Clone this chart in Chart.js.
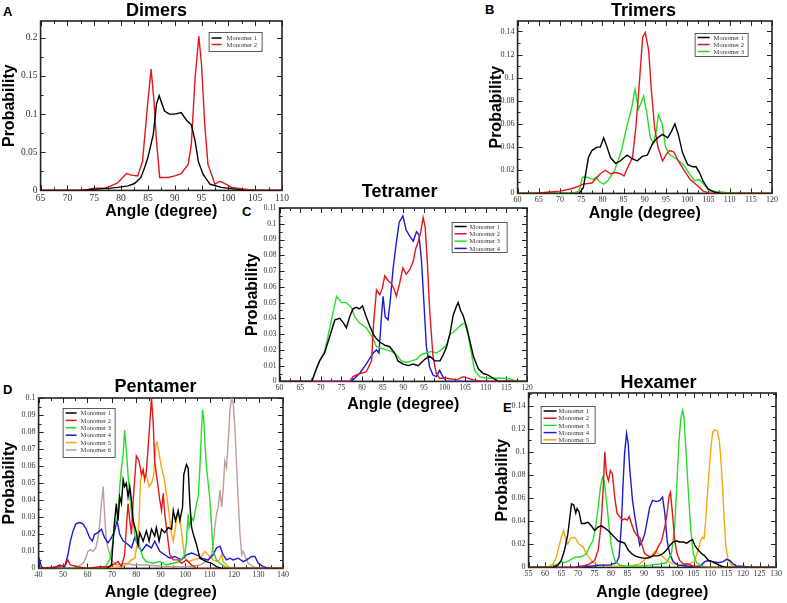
<!DOCTYPE html>
<html>
<head>
<meta charset="utf-8">
<script src="https://cdn.jsdelivr.net/npm/chart.js@4"></script>
<style>
  html, body { margin: 0; padding: 0; background: #fff; overflow: hidden; }
  body { width: 787px; height: 603px; position: relative; }
  canvas { position: absolute; }
  .tag { position: absolute; font: bold 13px "Liberation Sans", Arial, sans-serif; line-height: 13px; color: #000; }
</style>
</head>
<body>
<div class="tag" style="left:3px;top:5px">A</div>
<div class="tag" style="left:485px;top:3px">B</div>
<div class="tag" style="left:242px;top:205px">C</div>
<div class="tag" style="left:3px;top:383px">D</div>
<div class="tag" style="left:503px;top:401px">E</div>
<script>
// ---- data: [angle (degree), probability] ----
const dimersM1 = [[65,0],[73,0],[74,0.001],[76,0.002],[78,0.003],[79.4,0.004],[81.3,0.006],[82.5,0.009],[83.7,0.017],[84.4,0.03],[85,0.043],[86,0.073],[86.6,0.113],[87.1,0.124],[88.1,0.104],[89,0.1],[90,0.1],[91.2,0.102],[92.2,0.092],[93.1,0.086],[93.8,0.065],[94.4,0.038],[95.3,0.021],[96.6,0.008],[98.7,0.004],[101,0.002],[103,0],[110,0]];
const dimersM2 = [[65,0],[72,0],[73.7,0.001],[75,0.003],[77,0.003],[78.1,0.006],[79.4,0.01],[81,0.022],[81.9,0.02],[83.1,0.019],[84,0.038],[85,0.117],[85.6,0.159],[86.1,0.12],[86.6,0.065],[87.2,0.017],[88.8,0.017],[90,0.019],[91.2,0.022],[92.5,0.034],[93.1,0.06],[93.8,0.148],[94.5,0.202],[95,0.165],[95.6,0.086],[96.2,0.034],[97.5,0.008],[98.4,0.012],[99.1,0.01],[100.6,0.004],[103.7,0.001],[106,0],[110,0]];

const trimersM1 = [[60,0],[74.5,0],[75.5,0.005],[76.7,0.031],[77.5,0.037],[78.7,0.04],[79.5,0.04],[80.3,0.048],[81.1,0.04],[81.9,0.031],[83.1,0.026],[84.2,0.028],[85.8,0.033],[87,0.03],[88.2,0.028],[89.4,0.032],[90.6,0.033],[91.8,0.043],[93,0.048],[94.2,0.051],[95.4,0.048],[96.2,0.053],[97.1,0.06],[97.9,0.051],[98.9,0.035],[100.1,0.025],[101.3,0.023],[102.1,0.023],[102.9,0.018],[103.7,0.011],[104.9,0.004],[106.5,0.001],[108,0],[120,0]];
const trimersM2 = [[60,0],[64,0],[67,0.001],[70,0.002],[72.7,0.004],[74.3,0.006],[75.5,0.008],[77.5,0.009],[79.5,0.017],[80.7,0.02],[81.9,0.017],[83.1,0.018],[84.3,0.017],[85.1,0.015],[86.3,0.025],[87.1,0.031],[87.9,0.057],[88.7,0.095],[89.5,0.135],[90.1,0.139],[90.9,0.124],[91.5,0.092],[92.3,0.057],[93.1,0.04],[94.2,0.028],[95.1,0.034],[95.9,0.037],[96.8,0.036],[97.9,0.028],[99.1,0.021],[100.7,0.012],[102.3,0.007],[103.8,0.002],[105.4,0],[120,0]];
const trimersM3 = [[60,0],[73,0],[74.5,0.002],[75.3,0.014],[76.5,0.014],[77.7,0.012],[78.5,0.014],[79.3,0.01],[80.3,0.008],[81.3,0.011],[82.9,0.02],[84.5,0.037],[85.7,0.057],[86.9,0.074],[87.7,0.09],[88.5,0.073],[89.2,0.079],[89.7,0.084],[90.5,0.069],[91.3,0.048],[92.1,0.043],[92.7,0.054],[93.2,0.068],[94.1,0.06],[94.9,0.04],[95.7,0.034],[96.9,0.031],[98.1,0.028],[99.3,0.024],[100.5,0.017],[101.7,0.011],[102.9,0.012],[104.1,0.007],[105.3,0.002],[108.5,0.001],[110.9,0],[120,0]];

const tetramerM1 = [[60,0],[67.8,0],[68.5,0.005],[69.7,0.013],[70.9,0.018],[72.1,0.028],[73.4,0.039],[74.6,0.04],[75.5,0.037],[76.2,0.034],[77,0.041],[77.8,0.046],[78.6,0.047],[79.4,0.046],[80.1,0.048],[81,0.041],[81.9,0.035],[82.7,0.03],[83.5,0.027],[84.3,0.025],[85.5,0.023],[86.7,0.022],[87.9,0.018],[88.7,0.013],[90,0.011],[91.2,0.01],[92.4,0.011],[93.6,0.01],[94.4,0.012],[95.2,0.014],[96.4,0.016],[97.7,0.013],[98.9,0.013],[99.7,0.017],[100.5,0.022],[101.3,0.03],[102.1,0.042],[102.8,0.047],[103.3,0.05],[103.9,0.045],[104.5,0.042],[105.3,0.035],[106.2,0.025],[107,0.016],[108.2,0.008],[109.4,0.005],[110.6,0.004],[111.8,0.002],[113,0],[120,0]];
const tetramerM2 = [[60,0],[77,0],[77.8,0.003],[79.4,0.005],[81,0.006],[82.3,0.013],[82.8,0.037],[83.5,0.058],[84.3,0.055],[84.9,0.059],[85.5,0.067],[86.3,0.064],[87.1,0.062],[87.7,0.059],[88.3,0.054],[89.1,0.062],[89.9,0.072],[90.7,0.068],[91.6,0.071],[92.4,0.076],[93,0.084],[93.8,0.09],[94.3,0.096],[94.8,0.104],[95.3,0.098],[95.8,0.077],[96.4,0.045],[97.2,0.016],[98,0.005],[98.8,0.002],[100.5,0.002],[103,0.001],[104.5,0.003],[107,0.001],[109,0],[120,0]];
const tetramerM3 = [[60,0],[67.5,0],[68.1,0.002],[68.9,0.008],[69.7,0.013],[70.9,0.019],[72.1,0.033],[72.9,0.043],[73.8,0.054],[74.4,0.052],[75,0.05],[76.2,0.05],[77.4,0.047],[78.2,0.041],[79.4,0.037],[81,0.034],[82.3,0.029],[83.5,0.022],[84.7,0.021],[85.9,0.02],[87.1,0.019],[88.3,0.017],[89.5,0.013],[90.7,0.012],[92,0.013],[93.2,0.014],[94.4,0.017],[95.6,0.018],[96.8,0.019],[98,0.018],[99.2,0.02],[100.5,0.023],[101.3,0.03],[102.1,0.031],[103.3,0.034],[104.1,0.036],[104.9,0.037],[105.7,0.03],[106.5,0.018],[107.3,0.007],[108.5,0.003],[110.2,0.002],[112.6,0.002],[115,0.002],[116.7,0.001],[117.4,0],[120,0]];
const tetramerM4 = [[60,0],[77,0],[77.8,0.001],[79.4,0.005],[81,0.011],[82.7,0.018],[83.5,0.02],[84.1,0.018],[84.7,0.041],[85.1,0.054],[85.6,0.041],[86.3,0.039],[86.9,0.053],[87.5,0.071],[88.3,0.088],[89,0.101],[89.9,0.105],[90.7,0.096],[91.6,0.092],[92.4,0.089],[93.2,0.095],[93.8,0.093],[94.4,0.077],[95,0.05],[95.6,0.022],[96.4,0.009],[97.2,0.004],[98,0.003],[98.8,0.007],[99.6,0.003],[100.5,0],[120,0]];

const pentamerM1 = [[40,0],[68,0],[69.8,0.002],[71.1,0.028],[71.8,0.038],[72.5,0.028],[73.2,0.042],[73.9,0.038],[74.6,0.052],[75.2,0.048],[75.9,0.05],[76.6,0.042],[77.3,0.048],[78,0.04],[78.7,0.028],[80,0.021],[80.7,0.014],[81.4,0.021],[82.8,0.016],[84.1,0.022],[85.2,0.016],[86.2,0.023],[87.5,0.019],[88.2,0.024],[89.3,0.016],[90.3,0.023],[91.6,0.021],[93,0.024],[94.4,0.023],[95.1,0.034],[96,0.028],[97.1,0.034],[97.8,0.028],[98.9,0.036],[99.4,0.055],[100.5,0.061],[101.2,0.059],[101.9,0.038],[102.6,0.024],[103.3,0.02],[104.6,0.014],[106,0.006],[107.3,0.005],[108.7,0.004],[110.8,0.003],[112.8,0.001],[114.9,0],[140,0]];
const pentamerM2 = [[40,0],[48,0.001],[51,0.002],[52,0.005],[53,0.002],[56,0.001],[60,0],[65,0.001],[69,0.001],[70.5,0.002],[72.5,0.004],[73.9,0.001],[75.2,0.008],[75.9,0.024],[76.6,0.038],[77.3,0.028],[78,0.02],[78.7,0.04],[79.3,0.052],[80,0.066],[81.1,0.063],[82.1,0.055],[82.8,0.058],[83.4,0.052],[84.1,0.057],[84.8,0.071],[85.5,0.085],[86.2,0.1],[86.9,0.085],[87.5,0.063],[88.2,0.055],[88.9,0.048],[89.6,0.04],[90.3,0.034],[91,0.044],[91.6,0.032],[92.3,0.024],[93,0.016],[93.7,0.008],[95.1,0.005],[97.1,0.005],[98.5,0.003],[100.5,0.005],[102.6,0.002],[104.6,0],[140,0]];
const pentamerM3 = [[40,0],[67,0],[67.7,0.002],[69.1,0.005],[70.5,0.016],[71.1,0.027],[71.8,0.028],[72.5,0.032],[73.2,0.048],[73.9,0.059],[74.6,0.067],[75.2,0.081],[75.9,0.069],[76.6,0.055],[77.3,0.044],[78,0.032],[78.7,0.028],[79.3,0.02],[80,0.016],[80.7,0.018],[81.4,0.012],[82.8,0.006],[84.1,0.004],[86.9,0.003],[89.6,0.004],[92.3,0.002],[95.1,0.003],[97.8,0.004],[99.8,0.008],[100.5,0.016],[101.2,0.032],[101.6,0.024],[102.6,0.03],[103.3,0.028],[103.9,0.032],[104.6,0.038],[105.3,0.042],[106,0.059],[106.7,0.083],[107.1,0.093],[107.6,0.087],[108,0.075],[108.7,0.059],[109.4,0.05],[110.1,0.04],[110.8,0.024],[111.4,0.01],[112.8,0.005],[114.2,0.003],[116.2,0.001],[118.3,0],[140,0]];
const pentamerM4 = [[40,0.002],[40.4,0.005],[41.1,0.001],[42.5,0],[45.9,0],[48.6,0.002],[50.7,0.001],[52,0.008],[53,0.016],[54.1,0.022],[55.2,0.026],[56.8,0.027],[58.2,0.026],[59.5,0.023],[60.9,0.018],[62,0.016],[62.9,0.02],[64.3,0.021],[65.7,0.023],[67,0.018],[68.4,0.015],[69.8,0.018],[71.1,0.022],[72.1,0.028],[73.2,0.02],[74.6,0.016],[76.6,0.014],[78,0.012],[79.3,0.018],[80.7,0.014],[82.1,0.01],[84.1,0.014],[86.2,0.012],[87.5,0.016],[89.6,0.01],[91.6,0.008],[93.7,0.006],[95.7,0.007],[98.5,0.005],[100.5,0.008],[102.6,0.009],[104.6,0.008],[106.7,0.006],[109.4,0.005],[111.4,0.008],[112.8,0.012],[114.2,0.013],[115.5,0.008],[116.9,0.005],[118.3,0.006],[119.6,0.005],[121.7,0.006],[123.7,0.004],[125.1,0.005],[127.2,0.007],[128.5,0.007],[129.9,0.003],[131.9,0.001],[134.7,0],[140,0]];
const pentamerM5 = [[40,0],[65,0],[73.2,0.001],[75.9,0.002],[78,0.005],[79.3,0.006],[80.3,0.014],[81.1,0.028],[81.7,0.052],[82.5,0.057],[83.2,0.054],[84.1,0.055],[85.2,0.048],[86.2,0.05],[87.1,0.055],[88,0.073],[88.5,0.074],[89.3,0.067],[90.3,0.059],[91.2,0.054],[92.3,0.044],[93.4,0.032],[94.4,0.02],[95.1,0.016],[96,0.024],[96.8,0.032],[97.8,0.03],[98.9,0.016],[99.8,0.006],[101.2,0.004],[103.3,0.005],[106,0.006],[108,0.01],[109.4,0.008],[111.4,0.005],[113.5,0.004],[114.9,0.008],[115.5,0.004],[117.6,0.001],[119.6,0],[140,0]];
const pentamerM6 = [[40,0],[55,0],[58.2,0.003],[59.3,0.006],[60.2,0.01],[61.2,0.011],[62.3,0.01],[63.4,0.012],[64.3,0.018],[65,0.026],[65.7,0.038],[66.4,0.048],[67,0.032],[67.7,0.016],[68.4,0.012],[69.8,0.005],[71.8,0.002],[75.9,0.003],[78.7,0.002],[84.1,0.002],[92.3,0.001],[100.5,0.001],[106,0.002],[109.4,0.005],[110.8,0.008],[111.4,0.014],[112.1,0.024],[112.8,0.032],[113.5,0.036],[114.2,0.046],[114.9,0.036],[115.5,0.046],[116.2,0.063],[116.9,0.059],[117.6,0.075],[118.3,0.093],[119,0.1],[119.6,0.097],[120.3,0.083],[121,0.061],[121.7,0.04],[122.4,0.02],[123.1,0.008],[123.7,0.01],[124.8,0.006],[125.8,0.003],[127.8,0.001],[130,0],[140,0]];

const hexamerM1 = [[55,0],[62.4,0],[63.9,0.002],[64.9,0.006],[65.9,0.015],[66.9,0.029],[68,0.055],[68.7,0.054],[69.3,0.047],[69.7,0.051],[70.3,0.048],[71,0.038],[72,0.038],[73,0.039],[74,0.036],[75,0.032],[76.1,0.035],[77.1,0.036],[78.1,0.034],[79.1,0.032],[80.1,0.029],[81.1,0.026],[82.1,0.023],[83.1,0.022],[84.1,0.021],[85.2,0.015],[86.2,0.012],[87.2,0.01],[88.2,0.009],[89.7,0.008],[91.2,0.008],[92.8,0.01],[94.3,0.01],[95.8,0.012],[96.8,0.015],[97.8,0.019],[98.8,0.022],[99.8,0.023],[100.8,0.022],[101.9,0.022],[102.9,0.021],[103.9,0.023],[104.7,0.024],[105.4,0.019],[106.4,0.015],[107.4,0.012],[108.4,0.01],[109.5,0.006],[110.5,0.005],[112,0.003],[113.5,0.001],[115,0],[130,0]];
const hexamerM2 = [[55,0],[70,0],[71.5,0.001],[73.5,0.003],[75,0.006],[76.1,0.015],[76.9,0.035],[77.6,0.067],[78.1,0.1],[78.6,0.081],[79.2,0.075],[79.8,0.084],[80.4,0.081],[81.1,0.061],[81.8,0.047],[82.6,0.044],[83.4,0.041],[84.1,0.042],[84.9,0.041],[85.5,0.044],[86.2,0.038],[86.9,0.032],[87.7,0.028],[88.7,0.026],[89.5,0.018],[90.2,0.012],[91.2,0.01],[92.2,0.009],[93.3,0.012],[94.3,0.018],[95.3,0.023],[96.3,0.035],[97,0.047],[97.6,0.062],[98,0.065],[98.6,0.047],[99.3,0.023],[100,0.012],[100.8,0.006],[101.9,0.003],[103.4,0.003],[104.9,0.001],[106.9,0],[130,0]];
const hexamerM3 = [[55,0],[61,0],[62.4,0.001],[63.9,0.003],[64.9,0.005],[65.9,0.004],[67.4,0.006],[68.5,0.008],[69.5,0.009],[70.5,0.009],[71.5,0.01],[72.5,0.012],[73.5,0.018],[74.5,0.023],[75.3,0.035],[76.1,0.052],[76.8,0.07],[77.4,0.078],[77.9,0.075],[78.6,0.058],[79.4,0.035],[80.1,0.018],[81.1,0.006],[82.6,0.002],[84.7,0.001],[87.7,0.001],[91.7,0.002],[94.8,0.003],[96.8,0.004],[98.3,0.012],[99.3,0.035],[100,0.075],[100.6,0.11],[101.2,0.13],[101.7,0.136],[102.1,0.13],[102.7,0.101],[103.4,0.067],[104.1,0.035],[104.9,0.012],[105.9,0.004],[107.9,0.001],[110,0],[130,0]];
const hexamerM4 = [[55,0],[69,0],[70.5,0.001],[73.5,0.001],[76.6,0.002],[79.6,0.002],[81.6,0.004],[82.4,0.009],[83.1,0.035],[83.6,0.07],[84.1,0.099],[84.7,0.116],[85.2,0.107],[85.7,0.084],[86.5,0.058],[87.2,0.044],[87.9,0.032],[88.7,0.019],[89.5,0.023],[90.2,0.029],[91,0.041],[91.7,0.052],[92.6,0.058],[93.8,0.057],[94.8,0.058],[95.6,0.061],[96.3,0.047],[97,0.023],[97.8,0.012],[98.8,0.005],[100.3,0.002],[103.9,0.001],[106.9,0.001],[108.4,0.005],[109.5,0.006],[111,0.005],[112.5,0.004],[114,0.005],[115,0.007],[116,0.006],[117,0.003],[118.1,0.001],[120.1,0.001],[122.1,0],[130,0]];
const hexamerM5 = [[55,0],[60,0],[61.4,0.001],[62.4,0.003],[63.4,0.009],[64.2,0.018],[64.9,0.026],[65.6,0.032],[66.2,0.025],[66.9,0.02],[67.7,0.025],[68.5,0.026],[69.3,0.025],[70.3,0.02],[71.5,0.018],[72.5,0.012],[73.5,0.008],[74.5,0.004],[76.1,0.002],[79.6,0.001],[85.7,0.001],[88.7,0.003],[90.7,0.008],[92.2,0.01],[93.3,0.014],[94.3,0.012],[95.8,0.009],[97.3,0.005],[98.8,0.003],[100.8,0.002],[103.9,0.003],[105.4,0.006],[106.4,0.015],[107.1,0.023],[107.7,0.026],[108.2,0.025],[108.7,0.041],[109.3,0.067],[109.8,0.087],[110.3,0.104],[110.8,0.117],[111.5,0.119],[112.2,0.118],[112.8,0.11],[113.3,0.093],[113.8,0.07],[114.3,0.041],[114.8,0.018],[115.5,0.006],[116.5,0.002],[118.1,0],[130,0]];

const monomerLabels = ['Monomer 1', 'Monomer 2', 'Monomer 3', 'Monomer 4', 'Monomer 5', 'Monomer 6'];
const lineColors = ['#000000', '#e3161b', '#27dc27', '#1a1ad6', '#f6a70f', '#bf9d99'];

// frame with inward ticks, panel heading and boxed legend (grace style)
const gracePlugin = {
  id: 'grace',
  beforeDatasetsDraw(chart, args, o) {
    const ctx = chart.ctx, a = chart.chartArea, x = chart.scales.x, y = chart.scales.y;
    ctx.save();
    ctx.strokeStyle = '#222';
    ctx.lineWidth = 1;
    ctx.beginPath();
    const xs = o.xStep / 2;
    for (let i = 0; x.min + i * xs <= x.max + 1e-9; i++) {
      const px = Math.round(x.getPixelForValue(x.min + i * xs)) + 0.5;
      const len = i % 2 === 0 ? 5 : 3;
      ctx.moveTo(px, a.bottom); ctx.lineTo(px, a.bottom - len);
      ctx.moveTo(px, a.top); ctx.lineTo(px, a.top + len);
    }
    const ys = o.yStep / 2;
    for (let i = 0; i * ys <= y.max + 1e-9; i++) {
      const py = Math.round(y.getPixelForValue(i * ys)) + 0.5;
      const len = i % 2 === 0 ? 5 : 3;
      ctx.moveTo(a.left, py); ctx.lineTo(a.left + len, py);
      ctx.moveTo(a.right, py); ctx.lineTo(a.right - len, py);
    }
    ctx.stroke();
    ctx.lineWidth = 1.6;
    ctx.strokeRect(a.left, a.top, a.right - a.left, a.bottom - a.top);
    ctx.restore();
  },
  afterDraw(chart, args, o) {
    const ctx = chart.ctx;
    ctx.save();
    ctx.fillStyle = '#000';
    ctx.font = 'bold 18px "Liberation Sans", Arial, sans-serif';
    ctx.textAlign = 'center';
    ctx.textBaseline = 'middle';
    ctx.fillText(o.heading, o.headX - o.ox, o.headY - o.oy);

    const g = o.legend;
    const bx = g.x - o.ox, by = g.y - o.oy;
    ctx.fillStyle = '#fff';
    ctx.fillRect(bx, by, g.w, g.h);
    ctx.strokeStyle = '#333';
    ctx.lineWidth = 0.8;
    ctx.strokeRect(bx + 0.5, by + 0.5, g.w, g.h);
    ctx.font = '6.5px "Liberation Serif", "Times New Roman", serif';
    ctx.textAlign = 'left';
    chart.data.datasets.forEach((ds, i) => {
      const cy = by + g.first + i * g.row;
      ctx.strokeStyle = ds.borderColor;
      ctx.lineWidth = 1.5;
      ctx.beginPath();
      ctx.moveTo(bx + 3, cy); ctx.lineTo(bx + 3 + g.line, cy);
      ctx.stroke();
      ctx.fillStyle = '#333';
      ctx.fillText(ds.label, bx + g.textX, cy + 0.5);
    });
    ctx.restore();
  }
};

function fmt(v) {
  return v === 0 ? '0' : String(parseFloat(v.toFixed(3)));
}

function makePanel(p) {
  const left = p.plot[0] - p.yw;
  const top = p.headY - 14;
  const right = 16;
  const width = Math.round(p.plot[2] + right - left);
  const height = Math.round(p.plot[3] + p.xh - top);
  const cv = document.createElement('canvas');
  cv.width = width;
  cv.height = height;
  cv.style.left = left + 'px';
  cv.style.top = top + 'px';
  document.body.appendChild(cv);

  const tickFont = { family: '"Liberation Serif", "Times New Roman", serif', size: p.tickSize };
  const titleFont = { family: '"Liberation Sans", Arial, sans-serif', size: 16, weight: 'bold' };

  new Chart(cv, {
    type: 'line',
    data: {
      datasets: p.series.map((s, i) => ({
        label: monomerLabels[i],
        data: s.map(d => ({ x: d[0], y: d[1] })),
        borderColor: lineColors[i],
        borderWidth: 1.4,
        pointRadius: 0,
        tension: 0,
        fill: false
      }))
    },
    options: {
      responsive: false,
      animation: false,
      layout: { padding: { top: p.plot[1] - top, right: right, left: 0, bottom: 0 } },
      plugins: {
        legend: { display: false },
        tooltip: { enabled: false },
        grace: {
          heading: p.heading, headX: p.headX, headY: p.headY,
          ox: left, oy: top, xStep: p.xStep, yStep: p.yStep, legend: p.legend
        }
      },
      scales: {
        x: {
          type: 'linear',
          min: p.xRange[0], max: p.xRange[1],
          grid: { display: false, drawTicks: false },
          border: { display: false },
          ticks: { stepSize: p.xStep, autoSkip: false, maxRotation: 0, padding: 2, color: '#333', font: tickFont },
          title: { display: true, text: 'Angle (degree)', color: '#000', font: titleFont, padding: 0 },
          afterFit: s => { s.height = p.xh; }
        },
        y: {
          min: 0, max: p.yMax,
          grid: { display: false, drawTicks: false },
          border: { display: false },
          ticks: { stepSize: p.yStep, padding: 3, color: '#333', font: tickFont, callback: v => fmt(v) },
          afterBuildTicks: s => {
            s.ticks = s.ticks.filter(t => Math.abs(t.value / p.yStep - Math.round(t.value / p.yStep)) < 1e-6);
          },
          title: { display: true, text: 'Probability', color: '#000', font: titleFont, padding: 0 },
          afterFit: s => { s.width = p.yw; }
        }
      }
    },
    plugins: [gracePlugin]
  });
}

makePanel({
  heading: 'Dimers', headX: 157, headY: 11,
  plot: [41, 21, 282, 190], yw: 40.6, xh: 30.6, tickSize: 9.5,
  xRange: [65, 110], xStep: 5, yMax: 0.222, yStep: 0.05,
  series: [dimersM1, dimersM2],
  legend: { x: 209, y: 32, w: 53, h: 19, first: 6, row: 6.5, line: 10, textX: 18 }
});
makePanel({
  heading: 'Trimers', headX: 644, headY: 11,
  plot: [518, 21, 772, 193], yw: 30.6, xh: 29.6, tickSize: 8,
  xRange: [60, 120], xStep: 5, yMax: 0.149, yStep: 0.02,
  series: [trimersM1, trimersM2, trimersM3],
  legend: { x: 695, y: 33, w: 53, h: 23, first: 4.5, row: 7, line: 12, textX: 19 }
});
makePanel({
  heading: 'Tetramer', headX: 400, headY: 192,
  plot: [280, 208, 527, 381], yw: 36.6, xh: 32.6, tickSize: 7.5,
  xRange: [60, 120], xStep: 5, yMax: 0.11, yStep: 0.01,
  series: [tetramerM1, tetramerM2, tetramerM3, tetramerM4],
  legend: { x: 452, y: 222, w: 55, h: 30, first: 4.5, row: 7.3, line: 12, textX: 18 }
});
makePanel({
  heading: 'Pentamer', headX: 156, headY: 387,
  plot: [39, 398, 283, 568], yw: 38.6, xh: 33.6, tickSize: 8,
  xRange: [40, 140], xStep: 10, yMax: 0.1, yStep: 0.01,
  series: [pentamerM1, pentamerM2, pentamerM3, pentamerM4, pentamerM5, pentamerM6],
  legend: { x: 63, y: 408, w: 52, h: 49, first: 5, row: 7.4, line: 11, textX: 18 }
});
makePanel({
  heading: 'Hexamer', headX: 659, headY: 383,
  plot: [529, 393, 776, 567], yw: 35.6, xh: 34.6, tickSize: 8,
  xRange: [55, 130], xStep: 5, yMax: 0.151, yStep: 0.02,
  series: [hexamerM1, hexamerM2, hexamerM3, hexamerM4, hexamerM5],
  legend: { x: 541, y: 406, w: 54, h: 37, first: 5, row: 7.2, line: 13, textX: 18 }
});
</script>
</body>
</html>
